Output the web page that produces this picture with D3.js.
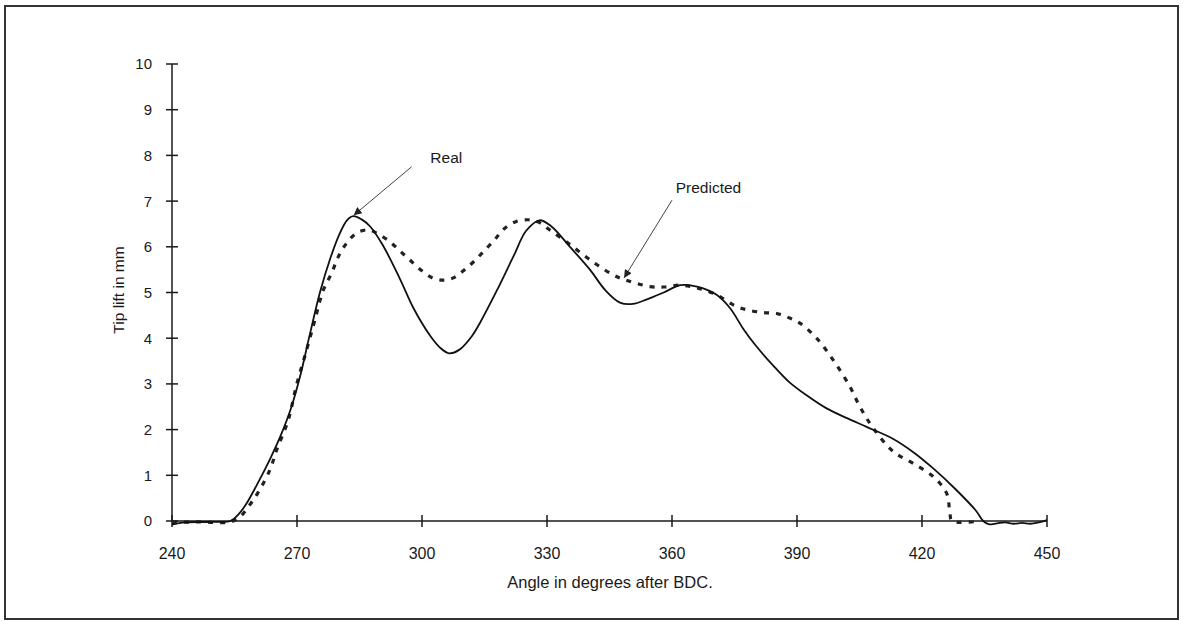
<!DOCTYPE html>
<html>
<head>
<meta charset="utf-8">
<script src="https://cdn.jsdelivr.net/npm/d3@7"></script>
<style>
  html, body { margin: 0; padding: 0; background: #fff; }
  svg { display: block; }
  text { font-family: "Liberation Sans", Arial, sans-serif; fill: #1a1a1a; }
</style>
</head>
<body>
<svg id="chart" width="1183" height="621"></svg>
<script>
// ---- Data ----
const xTicks = [240, 270, 300, 330, 360, 390, 420, 450];
const yTicks = [0, 1, 2, 3, 4, 5, 6, 7, 8, 9, 10];

const realAngle = [240, 243, 250, 254, 256, 258, 261, 263.5, 266, 268.5, 270.7, 273, 275.5, 278, 280.3, 282, 283.5, 285.5, 287.5, 290.5, 294.7, 298, 302, 304.5, 306.5, 309, 312, 314, 318, 322, 325, 328.2, 331, 335.5, 340.3, 344, 347.5, 350.6, 354, 358, 362, 366, 370.7, 374, 377, 380, 384.3, 388, 392.3, 397, 402, 406.7, 413, 418, 422.7, 428, 433, 434.7, 436, 438, 440, 442, 444, 446, 448, 450];
const realLift  = [-0.08, -0.03, -0.02, 0, 0.15, 0.4, 0.9, 1.35, 1.85, 2.45, 3.15, 4.05, 5.0, 5.75, 6.3, 6.58, 6.67, 6.6, 6.45, 6.05, 5.3, 4.65, 4.05, 3.78, 3.67, 3.75, 4.05, 4.35, 5.05, 5.8, 6.35, 6.58, 6.45, 6.0, 5.5, 5.05, 4.78, 4.75, 4.85, 5.0, 5.16, 5.13, 4.95, 4.65, 4.22, 3.85, 3.4, 3.05, 2.75, 2.47, 2.25, 2.06, 1.8, 1.5, 1.15, 0.7, 0.22, 0, -0.07, -0.05, -0.03, -0.06, -0.04, -0.06, -0.03, 0.02];

const predAngle = [240, 246, 254, 256.3, 258.3, 260.5, 263.5, 265.1, 267.9, 269.9, 272.3, 274.3, 276.3, 278.3, 279.9, 281.9, 284.3, 287.1, 289.5, 292.3, 294.7, 297.1, 299.5, 302.3, 305, 307.5, 310, 312.7, 315.1, 317.5, 319.5, 322.5, 325.9, 328, 330.5, 335.5, 341, 346, 349, 354.7, 358, 362, 366, 370.7, 374.7, 378, 382, 385.1, 388, 390.7, 394.7, 398.7, 402.7, 405.1, 408.3, 413.1, 417.9, 422.7, 425.9, 426.7, 427.2, 434];
const predLift  = [-0.03, -0.02, -0.02, 0.09, 0.31, 0.6, 1.12, 1.55, 2.21, 2.98, 3.74, 4.4, 5.05, 5.42, 5.78, 6.08, 6.3, 6.37, 6.28, 6.11, 5.91, 5.71, 5.51, 5.33, 5.27, 5.32, 5.48, 5.7, 5.93, 6.16, 6.38, 6.55, 6.59, 6.54, 6.38, 6.05, 5.67, 5.38, 5.27, 5.13, 5.12, 5.16, 5.1, 4.95, 4.73, 4.62, 4.56, 4.54, 4.45, 4.33, 4.0, 3.52, 2.94, 2.5, 2.03, 1.52, 1.26, 0.97, 0.61, 0.17, 0, 0];

// annotations in data units
const annoLabels = ["Real", "Predicted"];
const annoText   = [[302, 7.96], [360.9, 7.29]];
const annoFrom   = [[297.5, 7.75], [360.0, 7.02]];
const annoTo     = [[283.6, 6.69], [348.5, 5.32]];

const xTitle = "Angle in degrees after BDC.";
const yTitle = "Tip lift in mm";

// ---- Layout ----
const svg = d3.select("#chart");
const x = d3.scaleLinear().domain([240, 450]).range([172, 1047]);
const y = d3.scaleLinear().domain([0, 10]).range([521, 64]);
const ink = "#1a1a1a";

// frame
svg.append("rect").attr("x", 5).attr("y", 6).attr("width", 1173).attr("height", 613)
  .attr("fill", "none").attr("stroke", "#333").attr("stroke-width", 2);

// axes
const g = svg.append("g");
g.append("line").attr("x1", x(240)).attr("x2", x(240)).attr("y1", y(10)).attr("y2", y(0))
  .attr("stroke", ink).attr("stroke-width", 1.5);
g.append("line").attr("x1", x(240)).attr("x2", x(450)).attr("y1", y(0)).attr("y2", y(0))
  .attr("stroke", ink).attr("stroke-width", 1.5);

g.selectAll(".yt").data(yTicks).enter().append("line")
  .attr("x1", x(240) - 6).attr("x2", x(240) + 6)
  .attr("y1", d => y(d)).attr("y2", d => y(d))
  .attr("stroke", ink).attr("stroke-width", 1.5);
g.selectAll(".yl").data(yTicks).enter().append("text")
  .attr("x", x(240) - 20).attr("y", d => y(d)).attr("dy", "0.36em")
  .attr("text-anchor", "end").attr("font-size", 15).text(d => d);

g.selectAll(".xt").data(xTicks).enter().append("line")
  .attr("x1", d => x(d)).attr("x2", d => x(d))
  .attr("y1", y(0) - 6).attr("y2", y(0) + 6)
  .attr("stroke", ink).attr("stroke-width", 1.5);
g.selectAll(".xl").data(xTicks).enter().append("text")
  .attr("x", d => x(d)).attr("y", 553).attr("dy", "0.36em")
  .attr("text-anchor", "middle").attr("font-size", 16).text(d => d);

svg.append("text").attr("x", 610).attr("y", 582).attr("dy", "0.36em")
  .attr("text-anchor", "middle").attr("font-size", 16.5).text(xTitle);
svg.append("text").attr("transform", "translate(118,290) rotate(-90)").attr("dy", "0.36em")
  .attr("text-anchor", "middle").attr("font-size", 15.5).text(yTitle);

// lines
const line = d3.line().x(d => x(d[0])).y(d => y(d[1])).curve(d3.curveCatmullRom.alpha(0.5));
const realPts = realAngle.map((a, i) => [a, realLift[i]]);
const predPts = predAngle.map((a, i) => [a, predLift[i]]);

svg.append("path").datum(predPts).attr("d", line)
  .attr("fill", "none").attr("stroke", "#222").attr("stroke-width", 3.2)
  .attr("stroke-dasharray", "5,7");
svg.append("path").datum(realPts).attr("d", line)
  .attr("fill", "none").attr("stroke", "#111").attr("stroke-width", 1.8);

// annotations
const defs = svg.append("defs");
defs.append("marker").attr("id", "ah").attr("viewBox", "0 0 10 10")
  .attr("refX", 10).attr("refY", 5).attr("markerWidth", 11).attr("markerHeight", 8)
  .attr("markerUnits", "userSpaceOnUse").attr("orient", "auto")
  .append("path").attr("d", "M0,0 L10,5 L0,10 Z").attr("fill", "#222");

annoLabels.forEach((lab, i) => {
  svg.append("line")
    .attr("x1", x(annoFrom[i][0])).attr("y1", y(annoFrom[i][1]))
    .attr("x2", x(annoTo[i][0])).attr("y2", y(annoTo[i][1]))
    .attr("stroke", "#444").attr("stroke-width", 1).attr("marker-end", "url(#ah)");
  svg.append("text").attr("x", x(annoText[i][0])).attr("y", y(annoText[i][1])).attr("dy", "0.36em")
    .attr("font-size", 15.5).text(lab);
});
</script>
</body>
</html>
